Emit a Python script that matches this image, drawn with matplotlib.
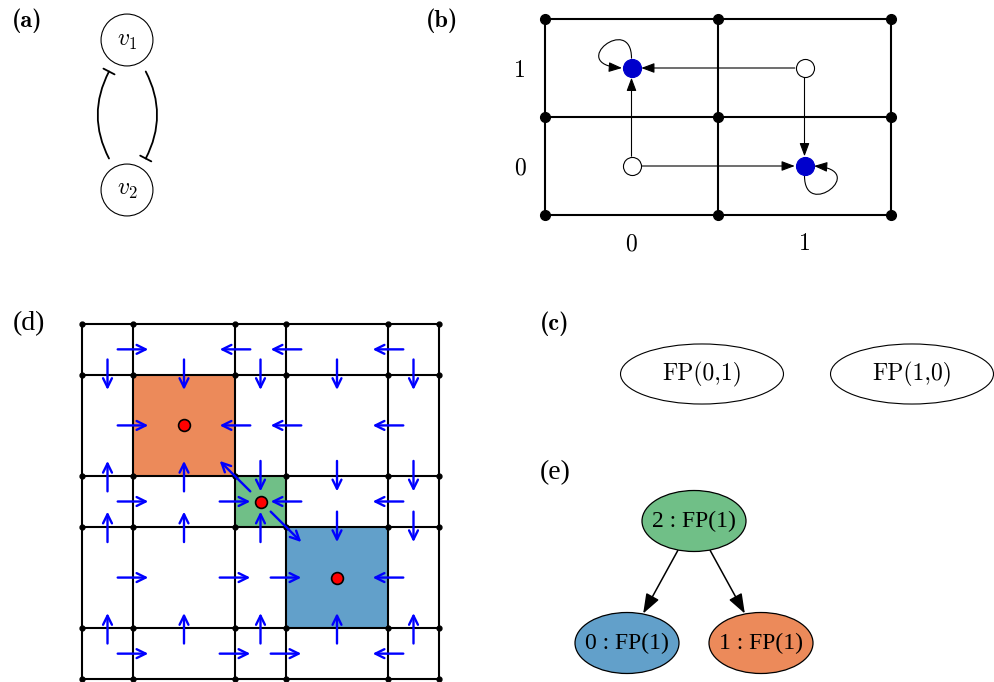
import numpy as np
import matplotlib
matplotlib.use('Agg')
import matplotlib.pyplot as plt
from matplotlib.patches import Circle, Ellipse, Rectangle, FancyArrowPatch
from matplotlib.path import Path

plt.rcParams['mathtext.fontset'] = 'cm'
plt.rcParams['font.family'] = ['DejaVu Serif']

# ---------------- data ----------------
# (a) network: two nodes that inhibit each other
a_labels = ['$v_1$', '$v_2$']
a_node_y = [1.0, 0.0]
a_edges = [(1, 0), (0, 1)]           # (source, target) inhibitions

# (b) state transition graph on the 2x2 Boolean grid
b_bounds = [-0.5, 0.5, 1.5]
b_ticks = [0, 1]
b_state_x = [0, 1, 0, 1]
b_state_y = [0, 0, 1, 1]
b_fixed = [False, True, True, False]
b_transitions = [(0, 2), (0, 1), (3, 2), (3, 1)]   # index pairs source -> target
b_loop_sign = {2: 1, 1: -1}                        # self loops on fixed points

# (c) attractor labels
c_labels = ['FP(0,1)', 'FP(1,0)']
c_x = [0, 1]

# (d) threshold-rectangle state space
d_bounds = [0, 1, 3, 4, 6, 7]
d_centers = [0.5, 2, 3.5, 5, 6.5]
d_inner = [1, 3, 4, 6]
# horizontal arrows: rows = y centres (ascending), cols = inner vertical lines
d_hdir = [[+1, +1, +1, -1],
          [+1, +1, +1, -1],
          [+1, +1, -1, -1],
          [+1, -1, -1, -1],
          [+1, -1, -1, -1]]
# vertical arrows: rows = inner horizontal lines (ascending), cols = x centres
d_vdir = [[+1, +1, +1, +1, +1],
          [+1, +1, +1, -1, -1],
          [+1, +1, -1, -1, -1],
          [-1, -1, -1, -1, -1]]
d_box_x0 = [1, 3, 4]
d_box_x1 = [3, 4, 6]
d_box_y0 = [4, 3, 1]
d_box_y1 = [6, 4, 3]
d_box_node = [2, 0, 1]          # which node of (e) the box belongs to
d_fp_x = [2, 3.5, 5]
d_fp_y = [5, 3.5, 2]
d_diag_dx = [-1, 1]             # saddle escapes (direction)

# (e) attractor hierarchy
e_labels = ['2 : FP(1)', '0 : FP(1)', '1 : FP(1)']
e_x = [0.5, 0.0, 1.0]
e_y = [1.0, 0.0, 0.0]
e_edges = [(0, 1), (0, 2)]
e_colors = ['#70bf87', '#62a0ca', '#ec8a5a']

BLUE = '#0000ff'

W, H = 994, 682
fig = plt.figure(figsize=(W / 100, H / 100), dpi=100)


def px_axes(x0, y0, x1, y1, xlim, ylim, off=True):
    ax = fig.add_axes([x0 / W, 1 - y1 / H, (x1 - x0) / W, (y1 - y0) / H])
    ax.set_xlim(*xlim)
    ax.set_ylim(*ylim)
    ax.patch.set_alpha(0)
    if off:
        ax.axis('off')
    return ax


# ---------------- (a) ----------------
axa = px_axes(52, 2.5, 202, 227.5, (-0.5, 0.5), (-0.25, 1.25))
for lab, y in zip(a_labels, a_node_y):
    axa.add_patch(Circle((0, y), 0.173, fc='white', ec='black', lw=0.8))
    axa.text(0, y, lab, ha='center', va='center', fontsize=17)
for s, t in a_edges:
    ys, yt = a_node_y[s], a_node_y[t]
    sg = np.sign(yt - ys)
    side = -0.12 if sg > 0 else 0.125
    p = FancyArrowPatch((side, ys + sg * 0.21), (side, yt - sg * 0.21),
                        connectionstyle='arc3,rad=-0.26',
                        arrowstyle='-[,widthB=0.45,lengthB=0',
                        mutation_scale=10, lw=1.3, color='black',
                        shrinkA=0, shrinkB=0)
    axa.add_patch(p)

# ---------------- (b) ----------------
axb = px_axes(545, 19, 891, 215, (-0.5, 1.5), (-0.5, 1.5), off=False)
for s in axb.spines.values():
    s.set_visible(False)
for v in b_bounds:
    axb.plot([v, v], [b_bounds[0], b_bounds[-1]], color='black', lw=1.5, clip_on=False)
    axb.plot([b_bounds[0], b_bounds[-1]], [v, v], color='black', lw=1.5, clip_on=False)
BX, BY = np.meshgrid(b_bounds, b_bounds)
axb.plot(BX.ravel(), BY.ravel(), 'o', color='black', ms=7, clip_on=False, zorder=4)
axb.set_xticks(b_ticks)
axb.set_yticks(b_ticks)
axb.set_xticklabels([str(t) for t in b_ticks], fontsize=17, family='cmr10')
axb.set_yticklabels([str(t) for t in b_ticks], fontsize=17, family='cmr10')
axb.tick_params(axis='x', length=0, pad=13)
axb.tick_params(axis='y', length=0, pad=14)
for s, t in b_transitions:
    axb.annotate('', xy=(b_state_x[t], b_state_y[t]),
                 xytext=(b_state_x[s], b_state_y[s]),
                 arrowprops=dict(arrowstyle='-|>,head_length=0.8,head_width=0.3',
                                 mutation_scale=10, lw=0.8, color='black',
                                 shrinkA=7, shrinkB=7))
for i, sg in b_loop_sign.items():
    x0, y0 = b_state_x[i], b_state_y[i]
    offs = np.array([(0, 0.1), (0, 0.56), (-0.38, 0.04), (-0.055, 0.0)]) * sg
    verts = [(x0 + dx, y0 + dy) for dx, dy in offs]
    path = Path(verts, [Path.MOVETO, Path.CURVE4, Path.CURVE4, Path.CURVE4])
    axb.add_patch(FancyArrowPatch(path=path,
                                  arrowstyle='-|>,head_length=0.8,head_width=0.3',
                                  mutation_scale=10, lw=0.8, color='black'))
for x, y, f in zip(b_state_x, b_state_y, b_fixed):
    if f:
        axb.plot(x, y, 'o', ms=13, mfc='#0000cc', mec='#0000cc', mew=0.8, zorder=5)
    else:
        axb.plot(x, y, 'o', ms=13, mfc='white', mec='black', mew=0.8, zorder=5)

# ---------------- (c) ----------------
axc = px_axes(600, 330, 994, 420, ((600 - 702) / 210, (994 - 702) / 210),
              ((374 - 420) / 210, (374 - 330) / 210))
for lab, x in zip(c_labels, c_x):
    axc.add_patch(Ellipse((x, 0), 0.776, 0.286, fc='white', ec='black', lw=0.8,
                          clip_on=False))
    axc.text(x, 0, lab, ha='center', va='center', fontsize=17, family='cmr10')

# ---------------- (d) ----------------
axd = px_axes(82, 324, 439, 679, (0, 7), (0, 7))
for x0, x1, y0, y1, n in zip(d_box_x0, d_box_x1, d_box_y0, d_box_y1, d_box_node):
    axd.add_patch(Rectangle((x0, y0), x1 - x0, y1 - y0, fc=e_colors[n], ec='none',
                            zorder=1))
for v in d_bounds:
    axd.plot([v, v], [d_bounds[0], d_bounds[-1]], color='black', lw=1.5,
             clip_on=False, zorder=2)
    axd.plot([d_bounds[0], d_bounds[-1]], [v, v], color='black', lw=1.5,
             clip_on=False, zorder=2)
DX, DY = np.meshgrid(d_bounds, d_bounds)
axd.plot(DX.ravel(), DY.ravel(), 'o', color='black', ms=3.5, clip_on=False, zorder=3)

astyle = dict(arrowstyle='->,head_length=0.65,head_width=0.32', mutation_scale=10,
              lw=1.7, color=BLUE, shrinkA=0, shrinkB=0)
L = 0.3
for r, yc in enumerate(d_centers):
    for c, xl in enumerate(d_inner):
        dr = d_hdir[r][c]
        axd.annotate('', xy=(xl + dr * L, yc), xytext=(xl - dr * L, yc),
                     arrowprops=astyle, zorder=4)
for r, yl in enumerate(d_inner):
    for c, xc in enumerate(d_centers):
        dr = d_vdir[r][c]
        axd.annotate('', xy=(xc, yl + dr * L), xytext=(xc, yl - dr * L),
                     arrowprops=astyle, zorder=4)
sx, sy = d_fp_x[1], d_fp_y[1]
for dx in d_diag_dx:
    axd.annotate('', xy=(sx + dx * 0.8, sy - dx * 0.8),
                 xytext=(sx + dx * 0.2, sy - dx * 0.2),
                 arrowprops=astyle, zorder=4)
axd.plot(d_fp_x, d_fp_y, 'o', ms=8.5, mfc='red', mec='black', mew=1.2, zorder=6)

# ---------------- (e) ----------------
axe = px_axes(560, 480, 830, 682, ((560 - 627) / 134, (830 - 627) / 134),
              ((643 - 682) / 122, (643 - 480) / 122))
ells = []
for lab, x, y, col in zip(e_labels, e_x, e_y, e_colors):
    e = Ellipse((x, y), 104 / 134, 61 / 122, fc=col, ec='black', lw=0.9,
                clip_on=False, zorder=2)
    axe.add_patch(e)
    ells.append(e)
    axe.text(x, y, lab, ha='center', va='center', fontsize=17,
             family='Liberation Serif', zorder=3)
for s, t in e_edges:
    axe.annotate('', xy=(e_x[t], e_y[t]), xytext=(e_x[s], e_y[s]),
                 arrowprops=dict(arrowstyle='-|>,head_length=0.6,head_width=0.22',
                                 mutation_scale=20, lw=1.1, color='black',
                                 patchA=ells[s], patchB=ells[t],
                                 shrinkA=0, shrinkB=0), zorder=1)

# ---------------- panel labels ----------------
for lab, x, y in [('a', 27, 21), ('b', 442, 21), ('c', 555, 324)]:
    fig.text(x / W, 1 - y / H, f'({lab})', ha='center', va='center',
             fontsize=17.5, family='cmb10')
for lab, x, y in [('d', 29, 324), ('e', 555, 473)]:
    fig.text(x / W, 1 - y / H, f'({lab})', ha='center', va='center', fontsize=20,
             family='Liberation Serif')

fig.savefig('out.png', dpi=100)
